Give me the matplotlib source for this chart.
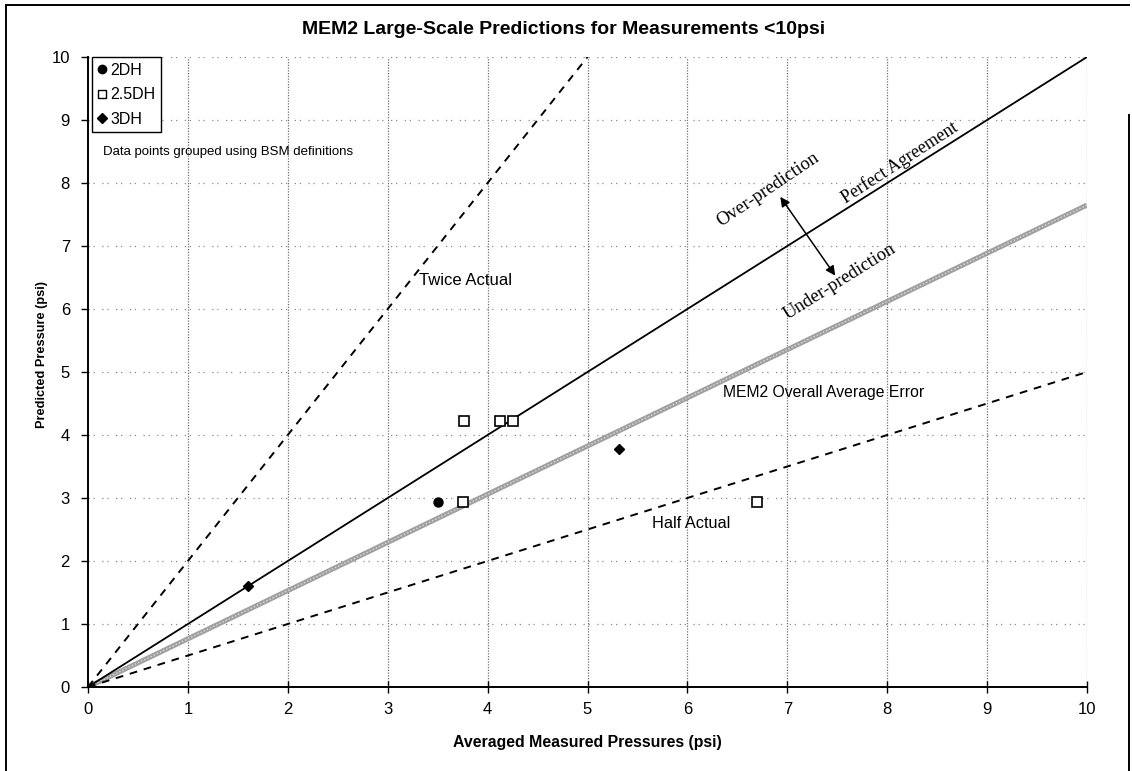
"""MEM2 large-scale predictions vs. averaged measured pressures (<10 psi)."""

import matplotlib.pyplot as plt
from matplotlib.lines import Line2D

# measured (x) vs predicted (y) pressures, psi
dh2_measured = [3.5]
dh2_predicted = [2.94]
dh25_measured = [3.76, 4.12, 4.25, 3.75, 6.7]
dh25_predicted = [4.23, 4.23, 4.23, 2.94, 2.94]
dh3_measured = [1.6, 5.32]
dh3_predicted = [1.6, 3.77]

# reference lines: slope of predicted vs measured
perfect_slope = 1.0
twice_slope = 2.0
half_slope = 0.5
mem2_avg_slope = 0.765
axis_max = 10

ticks = list(range(0, 11))

plt.rcParams["font.family"] = ["Liberation Sans", "DejaVu Sans"]

W, H = 1132, 771
fig = plt.figure(figsize=(W / 100, H / 100), dpi=100)
ax = fig.add_axes([88 / W, 1 - 687 / H, (1087 - 88) / W, (687 - 57) / H])

# reference lines
ax.plot([0, axis_max], [0, mem2_avg_slope * axis_max], color="#a0a0a0", lw=3.6,
        solid_capstyle="butt", zorder=2)
ax.plot([0, axis_max], [0, mem2_avg_slope * axis_max], color="#dcdcdc", lw=1.0,
        ls=(0, (1, 1.5)), zorder=2)
ax.plot([0, axis_max], [0, perfect_slope * axis_max], color="black", lw=1.3, zorder=3)
ax.plot([0, axis_max / twice_slope], [0, axis_max], color="black", lw=1.4,
        ls=(0, (4, 3.5)), zorder=3)
ax.plot([0, axis_max], [0, half_slope * axis_max], color="black", lw=1.4,
        ls=(0, (4, 3.5)), zorder=3)

# grouped data points
ax.plot(dh2_measured, dh2_predicted, ls="none", marker="o", ms=6.5,
        mfc="black", mec="black", zorder=5)
ax.plot(dh25_measured, dh25_predicted, ls="none", marker="s", ms=6.5,
        mfc="white", mec="black", mew=1.2, zorder=5)
ax.plot(dh3_measured, dh3_predicted, ls="none", marker="D", ms=5.5,
        mfc="black", mec="black", zorder=5)

ax.set_xlim(0, axis_max)
ax.set_ylim(0, axis_max)
ax.set_xticks(ticks)
ax.set_yticks(ticks)
ax.tick_params(axis="both", labelsize=12, length=5, width=1, pad=8)
ax.tick_params(axis="x", direction="inout", length=8, pad=7)

for x in ticks[1:]:
    ax.axvline(x, color="#707070", lw=0.9, ls=(0, (1, 1.2)), zorder=1)
for y in ticks[1:]:
    ax.axhline(y, color="#8a8a8a", lw=0.9, ls=(0, (1, 3, 1, 6)), zorder=1)

for side in ("top", "right"):
    ax.spines[side].set_visible(False)
for side in ("left", "bottom"):
    ax.spines[side].set_linewidth(1.4)

fig.text(564 / W, 1 - 30 / H, "MEM2 Large-Scale Predictions for Measurements <10psi",
         ha="center", va="center", fontsize=14, fontweight="bold")
fig.text(587 / W, 1 - 742 / H, "Averaged Measured Pressures (psi)",
         ha="center", va="center", fontsize=11.4, fontweight="bold")
fig.text(42 / W, 1 - 355 / H, "Predicted Pressure (psi)", rotation=90,
         ha="center", va="center", fontsize=9.2, fontweight="bold")

# annotations
ax.text(0.15, 8.49, "Data points grouped using BSM definitions", fontsize=9.5,
        ha="left", va="center")
ax.text(3.31, 6.46, "Twice Actual", fontsize=12, ha="left", va="center")
ax.text(5.65, 2.6, "Half Actual", fontsize=11.7, ha="left", va="center")
ax.text(6.36, 4.67, "MEM2 Overall Average Error", fontsize=11.3, ha="left", va="center")

serif = ["Liberation Serif", "DejaVu Serif"]
ax.text(8.13, 8.33, "Perfect Agreement", family=serif, fontsize=13,
        rotation=33, rotation_mode="anchor", ha="center", va="center")
ax.text(6.81, 7.89, "Over-prediction", family=serif, fontsize=13.5,
        rotation=34, rotation_mode="anchor", ha="center", va="center")
ax.text(7.53, 6.43, "Under-prediction", family=serif, fontsize=13.5,
        rotation=32, rotation_mode="anchor", ha="center", va="center")
ax.annotate("", xy=(6.93, 7.78), xytext=(7.48, 6.53),
            arrowprops=dict(arrowstyle="<|-|>", color="black", lw=1.1,
                            mutation_scale=14, shrinkA=0, shrinkB=0))

handles = [
    Line2D([], [], ls="none", marker="o", ms=6, mfc="black", mec="black"),
    Line2D([], [], ls="none", marker="s", ms=5.5, mfc="white", mec="black"),
    Line2D([], [], ls="none", marker="D", ms=5, mfc="black", mec="black"),
]
leg = ax.legend(handles, ["2DH", "2.5DH", "3DH"], loc="upper left",
                bbox_to_anchor=(0.004, 1.0), fontsize=11.5, frameon=True,
                fancybox=False, framealpha=1, edgecolor="black",
                handlelength=0.6, handletextpad=0.2, labelspacing=0.6,
                borderpad=0.35, borderaxespad=0)
leg.get_frame().set_linewidth(1.0)

# outer frame
frame = dict(color="black", lw=1.4, transform=fig.transFigure)
fig.add_artist(Line2D([6 / W, 1129 / W], [1 - 5 / H, 1 - 5 / H], **frame))
fig.add_artist(Line2D([6 / W, 6 / W], [0, 1 - 5 / H], **frame))
fig.add_artist(Line2D([1129 / W, 1129 / W], [0, 1 - 115 / H], **frame))

fig.savefig("out.png", dpi=100, facecolor="white")
